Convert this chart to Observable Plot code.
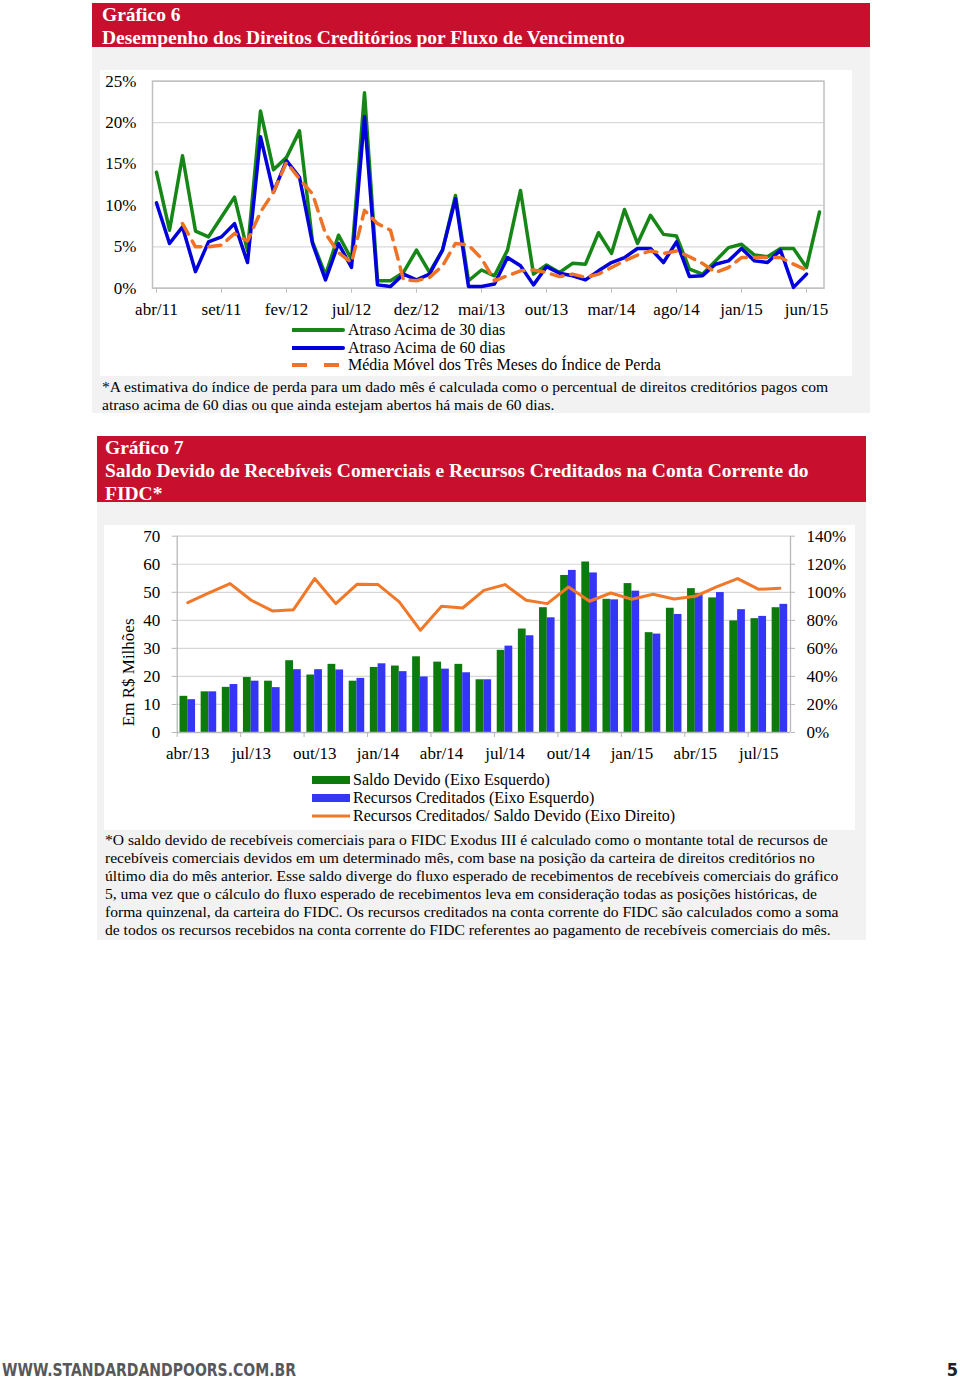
<!DOCTYPE html>
<html>
<head>
<meta charset="utf-8">
<script src="https://cdn.jsdelivr.net/npm/d3@7"></script>
<script src="https://cdn.jsdelivr.net/npm/@observablehq/plot@0.6"></script>
<style>
  html, body { margin: 0; padding: 0; }
  body { width: 960px; height: 1380px; position: relative; background: #fff; font-family: "Liberation Serif", "Times New Roman", serif; color: #000; overflow: hidden; }
  .abs { position: absolute; }
  .hdr { background: #c8102e; color: #fff; font-weight: bold; font-size: 19.5px; line-height: 23px; box-sizing: border-box; white-space: nowrap; }
  .panel { background: #f2f2f2; }
  .white { background: #fff; }
  .note { font-size: 15.6px; line-height: 18px; white-space: nowrap; }
  .leg { font-size: 16px; white-space: nowrap; }
  .leg .row { position: absolute; display: flex; align-items: center; height: 18px; }
  .leg svg { display: block; }
</style>
</head>
<body>
<div class="abs hdr" style="left:92px;top:3px;width:778px;height:44px;padding-left:10px;" id="title6"></div>
<div class="abs panel" style="left:92px;top:47px;width:778px;height:366px;"></div>
<div class="abs white" style="left:100px;top:70px;width:752px;height:306px;"></div>
<div class="abs note" style="left:102px;top:378px;" id="note6"></div>

<div class="abs hdr" style="left:97px;top:436px;width:769px;height:66px;padding-left:8px;" id="title7"></div>
<div class="abs panel" style="left:97px;top:502px;width:769px;height:438px;"></div>
<div class="abs white" style="left:104px;top:525px;width:751px;height:305px;"></div>
<div class="abs note" style="left:105px;top:831px;" id="note7"></div>

<svg class="abs" style="left:0;top:1356px" width="960" height="24">
  <text x="2" y="20" textLength="294" lengthAdjust="spacingAndGlyphs" font-family="'DejaVu Sans Condensed', 'DejaVu Sans', sans-serif" font-weight="bold" font-size="17" fill="#58585a">WWW.STANDARDANDPOORS.COM.BR</text>
  <text x="958" y="20" text-anchor="end" font-family="'DejaVu Sans Condensed', 'DejaVu Sans', sans-serif" font-weight="bold" font-size="18" fill="#222">5</text>
</svg>

<script>
// ---------- Gráfico 6 data ----------
const title6 = ["Gráfico 6", "Desempenho dos Direitos Creditórios por Fluxo de Vencimento"];
const months6 = ["abr/11","mai/11","jun/11","jul/11","ago/11","set/11","out/11","nov/11","dez/11",
  "jan/12","fev/12","mar/12","abr/12","mai/12","jun/12","jul/12","ago/12","set/12","out/12","nov/12","dez/12",
  "jan/13","fev/13","mar/13","abr/13","mai/13","jun/13","jul/13","ago/13","set/13","out/13","nov/13","dez/13",
  "jan/14","fev/14","mar/14","abr/14","mai/14","jun/14","jul/14","ago/14","set/14","out/14","nov/14","dez/14",
  "jan/15","fev/15","mar/15","abr/15","mai/15","jun/15","jul/15"];
const xTicks6 = ["abr/11","set/11","fev/12","jul/12","dez/12","mai/13","out/13","mar/14","ago/14","jan/15","jun/15"];
const yTicks6 = [0, 5, 10, 15, 20, 25];
const atraso30 = [14.0, 7.0, 16.0, 6.9, 6.2, 8.6, 11.0, 4.5, 21.4, 14.3,
  15.8, 19.0, 5.6, 1.6, 6.4, 3.5, 23.6, 0.9, 0.9, 1.9,
  4.6, 1.9, 4.6, 11.2, 0.9, 2.2, 1.5, 4.6, 11.8, 1.7,
  2.8, 1.9, 3.0, 2.9, 6.7, 4.2, 9.5, 5.4, 8.8, 6.5,
  6.3, 2.3, 1.7, 3.3, 4.9, 5.3, 4.0, 3.8, 4.8, 4.8,
  2.5, 9.2];
const atraso60 = [10.3, 5.4, 7.4, 2.0, 5.6, 6.2, 7.8, 3.1, 18.3, 11.6,
  15.4, 13.4, 5.4, 1.0, 5.4, 2.5, 20.7, 0.4, 0.2, 1.7,
  1.0, 1.7, 4.6, 10.8, 0.2, 0.2, 0.5, 3.7, 2.7, 0.4,
  2.6, 1.8, 1.5, 1.0, 2.1, 3.1, 3.7, 4.8, 4.8, 3.1,
  5.6, 1.4, 1.5, 2.9, 3.3, 4.8, 3.3, 3.1, 4.6, 0.1,
  1.7, null];
const mediaMovel = [null, null, 7.8, 5.0, 5.0, 5.2, 6.6, 5.7, 9.2, 11.6,
  15.2, 13.2, 11.4, 6.6, 4.3, 3.1, 9.4, 7.8, 7.0, 1.0,
  0.9, 1.3, 2.7, 5.4, 5.2, 3.6, 0.9, 1.5, 2.1, 2.2,
  1.9, 1.4, 1.7, 1.3, 1.7, 2.5, 3.3, 4.0, 4.5, 4.2,
  4.5, 3.8, 3.0, 1.9, 2.5, 3.7, 3.7, 3.7, 3.7, 2.9,
  2.2, null];
const legend6 = ["Atraso Acima de 30 dias", "Atraso Acima de 60 dias", "Média Móvel dos Três Meses do Índice de Perda"];
const note6 = ["*A estimativa do índice de perda para um dado mês é calculada como o percentual de direitos creditórios pagos com",
  "atraso acima de 60 dias ou que ainda estejam abertos há mais de 60 dias."];

// ---------- Gráfico 7 data ----------
const title7 = ["Gráfico 7", "Saldo Devido de Recebíveis Comerciais e Recursos Creditados na Conta Corrente do", "FIDC*"];
const months7 = ["abr/13","mai/13","jun/13","jul/13","ago/13","set/13","out/13","nov/13","dez/13",
  "jan/14","fev/14","mar/14","abr/14","mai/14","jun/14","jul/14","ago/14","set/14","out/14","nov/14","dez/14",
  "jan/15","fev/15","mar/15","abr/15","mai/15","jun/15","jul/15","ago/15"];
const xTicks7 = ["abr/13","jul/13","out/13","jan/14","abr/14","jul/14","out/14","jan/15","abr/15","jul/15"];
const yTicks7 = [0, 10, 20, 30, 40, 50, 60, 70];
const saldoDevido = [12.9, 14.5, 16.1, 19.6, 18.3, 25.6, 20.5, 24.3, 18.3, 23.2,
  23.7, 27.0, 25.1, 24.3, 18.8, 29.3, 36.9, 44.5, 56.0, 60.8,
  47.5, 53.1, 35.6, 44.3, 51.3, 48.0, 39.8, 40.6, 44.5];
const recursosCreditados = [11.7, 14.5, 17.1, 18.3, 16.0, 22.4, 22.4, 22.3, 19.3, 24.5,
  21.7, 19.8, 22.6, 21.3, 18.8, 30.8, 34.5, 40.9, 57.8, 56.9,
  47.3, 50.4, 35.1, 42.1, 49.5, 49.9, 43.8, 41.4, 45.7];
const razao = [92.6, 99.5, 106.2, 94.3, 86.7, 87.6, 109.8, 91.9, 105.7, 105.5,
  93.1, 72.9, 90.0, 88.8, 101.4, 105.5, 94.3, 91.9, 103.8, 93.6,
  99.5, 95.0, 98.6, 95.2, 97.1, 103.8, 109.8, 102.1, 102.9];
const yLabel7 = "Em R$ Milhões";
const legend7 = ["Saldo Devido (Eixo Esquerdo)", "Recursos Creditados (Eixo Esquerdo)", "Recursos Creditados/ Saldo Devido (Eixo Direito)"];
const note7 = ["*O saldo devido de recebíveis comerciais para o FIDC Exodus III é calculado como o montante total de recursos de",
  "recebíveis comerciais devidos em um determinado mês, com base na posição da carteira de direitos creditórios no",
  "último dia do mês anterior. Esse saldo diverge do fluxo esperado de recebimentos de recebíveis comerciais do gráfico",
  "5, uma vez que o cálculo do fluxo esperado de recebimentos leva em consideração todas as posições históricas, de",
  "forma quinzenal, da carteira do FIDC. Os recursos creditados na conta corrente do FIDC são calculados como a soma",
  "de todos os recursos recebidos na conta corrente do FIDC referentes ao pagamento de recebíveis comerciais do mês."];

// ---------- styles ----------
const green6 = "#168716", blue6 = "#0000dc", orange6 = "#ee7326";
const green7 = "#0d7a0d", blue7 = "#3535f5", orange7 = "#f07828";
const fontFam = "'Liberation Serif', 'Times New Roman', serif";

function lines(el, arr) {
  arr.forEach((t, i) => { if (i) el.appendChild(document.createElement("br")); el.appendChild(document.createTextNode(t)); });
}
lines(document.getElementById("title6"), title6);
lines(document.getElementById("title7"), title7);
lines(document.getElementById("note6"), note6);
lines(document.getElementById("note7"), note7);

function place(node, left, top) {
  node.style.position = "absolute";
  node.style.left = left + "px";
  node.style.top = top + "px";
  document.body.appendChild(node);
}

// ---------- Chart 6 ----------
const rows6 = months6.map((m, i) => ({m, a30: atraso30[i], a60: atraso60[i], mm: mediaMovel[i]}));
const chart6 = Plot.plot({
  width: 752, height: 252,
  marginLeft: 52, marginRight: 28.5, marginTop: 10.7, marginBottom: 34.3,
  style: {background: "transparent", fontFamily: fontFam, fontSize: "17px", color: "#000", overflow: "visible"},
  x: {type: "point", domain: months6, padding: 0},
  y: {domain: [0, 25]},
  marks: [
    Plot.gridY(yTicks6, {stroke: "#d9d9d9", strokeOpacity: 1, strokeWidth: 1.2}),
    Plot.frame({stroke: "#c0c0c0", strokeWidth: 1.5}),
    Plot.axisY(yTicks6, {tickSize: 0, tickPadding: 16, tickFormat: d => d + "%", label: null}),
    Plot.axisX(xTicks6, {tickSize: 5, tickPadding: 10, label: null, stroke: "#c0c0c0"}),
    Plot.line(rows6, {x: "m", y: "a30", stroke: green6, strokeWidth: 3.5, strokeLinejoin: "round"}),
    Plot.line(rows6, {x: "m", y: "a60", stroke: blue6, strokeWidth: 3.5, strokeLinejoin: "round"}),
    Plot.line(rows6, {x: "m", y: "mm", stroke: orange6, strokeWidth: 3.5, strokeDasharray: "12,8"})
  ]
});
place(chart6, 100, 70);

// legend 6
const leg6 = document.createElement("div");
leg6.className = "leg";
const leg6Styles = [{c: green6, d: null}, {c: blue6, d: null}, {c: orange6, d: "15,17"}];
legend6.forEach((t, i) => {
  const row = document.createElement("div");
  row.className = "row";
  row.style.top = (i * 17.5) + "px";
  const s = leg6Styles[i];
  row.innerHTML = `<svg width="56" height="18"><line x1="0" x2="51" y1="9" y2="9" stroke="${s.c}" stroke-width="4" ${s.d ? `stroke-dasharray="${s.d}"` : 'stroke-linecap="round"'}/></svg>`;
  const sp = document.createElement("span");
  sp.textContent = t;
  row.appendChild(sp);
  leg6.appendChild(row);
});
place(leg6, 292, 321);

// ---------- Chart 7 ----------
const rows7 = months7.map((m, i) => ({m, saldo: saldoDevido[i], rec: recursosCreditados[i], razao: razao[i]}));
const plotW7 = 751, mL7 = 72.7, mR7 = 65;
const step7 = (plotW7 - mL7 - mR7) / months7.length;
const padIn7 = 0.265;
const band7 = step7 * (1 - padIn7);
const chart7 = Plot.plot({
  width: plotW7, height: 245,
  marginLeft: mL7, marginRight: mR7, marginTop: 10.7, marginBottom: 38,
  style: {background: "transparent", fontFamily: fontFam, fontSize: "17px", color: "#000", overflow: "visible"},
  x: {type: "band", domain: months7, paddingInner: padIn7, paddingOuter: padIn7 / 2, round: false},
  y: {domain: [0, 70]},
  marks: [
    Plot.gridY(yTicks7, {stroke: "#d6d6d6", strokeOpacity: 1, strokeWidth: 1.2}),
    Plot.barY(rows7, {x: "m", y: "saldo", fill: green7, insetRight: band7 / 2}),
    Plot.barY(rows7, {x: "m", y: "rec", fill: blue7, insetLeft: band7 / 2}),
    Plot.line(rows7, {x: "m", y: d => d.razao / 2, stroke: orange7, strokeWidth: 3, strokeLinejoin: "round"}),
    Plot.ruleX([months7[0]], {dx: -step7 / 2, stroke: "#b8b8b8", strokeWidth: 1.3}),
    Plot.ruleY([0], {stroke: "#b8b8b8", strokeWidth: 1.3}),
    Plot.ruleX([months7[months7.length - 1]], {dx: step7 / 2, stroke: "#b8b8b8", strokeWidth: 1.3}),
    Plot.axisY(yTicks7, {tickSize: 5, tickPadding: 12, stroke: "#b8b8b8", label: null}),
    Plot.axisY(yTicks7, {anchor: "right", tickSize: 4, tickPadding: 12, stroke: "#b8b8b8", tickFormat: d => (d * 2) + "%", label: null}),
    Plot.axisX(xTicks7, {tickSize: 5, dx: -step7 / 2, tickFormat: () => "", stroke: "#b8b8b8", label: null}),
    Plot.axisX(xTicks7, {tickSize: 0, tickPadding: 14, label: null}),
    Plot.text([yLabel7], {frameAnchor: "left", textAnchor: "middle", rotate: -90, dx: -48.4, dy: 38, fontSize: 17})
  ]
});
place(chart7, 104, 525);

// legend 7
const leg7 = document.createElement("div");
leg7.className = "leg";
const leg7Styles = [{c: green7, t: "rect"}, {c: blue7, t: "rect"}, {c: orange7, t: "line"}];
legend7.forEach((t, i) => {
  const row = document.createElement("div");
  row.className = "row";
  row.style.top = (i * 18) + "px";
  const s = leg7Styles[i];
  row.innerHTML = s.t === "rect"
    ? `<svg width="41" height="18"><rect x="0" y="5" width="38" height="8" fill="${s.c}"/></svg>`
    : `<svg width="41" height="18"><line x1="0" x2="38" y1="9" y2="9" stroke="${s.c}" stroke-width="3"/></svg>`;
  const sp = document.createElement("span");
  sp.textContent = t;
  row.appendChild(sp);
  leg7.appendChild(row);
});
place(leg7, 312, 771);
</script>
</body>
</html>
